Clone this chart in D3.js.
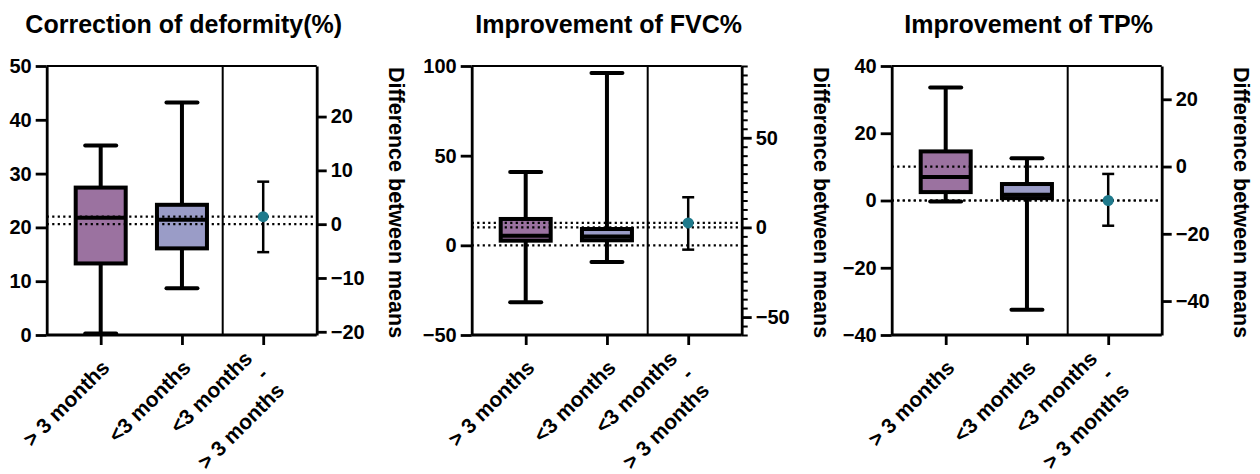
<!DOCTYPE html>
<html>
<head>
<meta charset="utf-8">
<script src="https://cdn.jsdelivr.net/npm/d3@7"></script>
<style>
  body { margin: 0; background: #fff; }
  text { font-family: "Liberation Sans", Arial, sans-serif; font-weight: bold; fill: #000; }
</style>
</head>
<body>
<div id="chart"></div>
<script>
// panel titles and category labels
const panelTitles = ["Correction of deformity(%)", "Improvement of FVC%", "Improvement of TP%"];
const groupNames = ["> 3 months", "<3 months"];
const diffLabel = ["<3 months", "-", "> 3 months"];
const rightTitle = "Difference between means";

// box summaries: [min, q1, median, q3, max]
const deformityOver3 = [0.3, 13.3, 21.8, 27.4, 35.2];
const deformityUnder3 = [8.7, 16.1, 21.4, 24.2, 43.2];
const fvcOver3 = [-31.8, 2.6, 5.4, 14.7, 40.9];
const fvcUnder3 = [-9.3, 2.8, 4.9, 9.1, 96.1];
const tpOver3 = [-0.3, 2.5, 7.0, 14.6, 33.6];
const tpUnder3 = [-32.5, 0.7, 1.7, 4.9, 12.6];

// group means: [> 3 months (reference), <3 months]
const deformityMeans = [20.6, 22.0];
const fvcMeans = [10.0, 12.5];
const tpMeans = [10.1, 0.0];

// difference between means: [estimate, lower CI, upper CI]
const deformityDiff = [1.4, -5.2, 7.9];
const fvcDiff = [2.5, -12.4, 16.8];
const tpDiff = [-10.1, -17.6, -2.2];

// axis domains and ticks
const leftDomains = [[0, 50], [-50, 100], [-40, 40]];
const leftTicks = [[0, 10, 20, 30, 40, 50], [-50, 0, 50, 100], [-40, -20, 0, 20, 40]];
const rightTicks = [[-20, -10, 0, 10, 20], [-50, 0, 50], [-40, -20, 0, 20]];
const rightMinorTicks = [[], [-60, -55, -45, -40, -35, -30, -25, -20, -15, -10, -5, 5, 10, 15, 20, 25, 30, 35, 40, 45, 55, 60, 65, 70, 75, 80, 85, 90], []];

const panels = [
    {boxes: [deformityOver3, deformityUnder3], means: deformityMeans, diff: deformityDiff},
    {boxes: [fvcOver3, fvcUnder3], means: fvcMeans, diff: fvcDiff},
    {boxes: [tpOver3, tpUnder3], means: tpMeans, diff: tpDiff}
];

const boxColors = ["#9b72a0", "#9a9cc7"];
const pointColor = "#1f7a8c";

const svg = d3.select("#chart")
    .append("svg")
    .attr("width", 1260)
    .attr("height", 474);

const panelX = [46.7, 471.7, 891.7];
const plotTop = 66, plotBottom = 335, plotWidth = 270, sepX = 176;

panels.forEach((p, i) => {
    const g = svg.append("g").attr("transform", `translate(${panelX[i]},0)`);

    const x = d3.scalePoint()
        .domain([0, 1, 2])
        .range([54, 216.5]);

    const y = d3.scaleLinear()
        .domain(leftDomains[i])
        .range([plotBottom, plotTop]);

    // right axis is shifted so that its zero sits on the reference mean
    const yR = d3.scaleLinear()
        .domain(leftDomains[i].map(v => v - p.means[0]))
        .range([plotBottom, plotTop]);

    // title
    g.append("text")
        .attr("x", 137)
        .attr("y", 33)
        .attr("text-anchor", "middle")
        .style("font-size", "25px")
        .text(panelTitles[i]);

    // frame top and separator
    g.append("line")
        .attr("x1", 0).attr("x2", plotWidth)
        .attr("y1", plotTop).attr("y2", plotTop)
        .attr("stroke", "#000").attr("stroke-width", 2);
    g.append("line")
        .attr("x1", sepX).attr("x2", sepX)
        .attr("y1", plotTop).attr("y2", plotBottom)
        .attr("stroke", "#000").attr("stroke-width", 2);

    // boxes
    p.boxes.forEach((b, j) => {
        const cx = x(j);
        g.append("line")
            .attr("x1", cx).attr("x2", cx)
            .attr("y1", y(b[0])).attr("y2", y(b[4]))
            .attr("stroke", "#000").attr("stroke-width", 4);
        g.append("rect")
            .attr("x", cx - 25).attr("width", 50)
            .attr("y", y(b[3])).attr("height", y(b[1]) - y(b[3]))
            .attr("fill", boxColors[j])
            .attr("stroke", "#000").attr("stroke-width", 4);
        g.append("line")
            .attr("x1", cx - 25).attr("x2", cx + 25)
            .attr("y1", y(b[2])).attr("y2", y(b[2]))
            .attr("stroke", "#000").attr("stroke-width", 4);
        [b[0], b[4]].forEach(v => {
            g.append("line")
                .attr("x1", cx - 15.5).attr("x2", cx + 15.5)
                .attr("y1", y(v)).attr("y2", y(v))
                .attr("stroke", "#000").attr("stroke-width", 4)
                .attr("stroke-linecap", "round");
        });
    });

    // dotted reference lines: zero, reference mean, other mean
    [y(0), yR(0), yR(p.diff[0])].forEach(ly => {
        if (Math.abs(ly - plotBottom) < 1) return;
        g.append("line")
            .attr("x1", 0).attr("x2", plotWidth)
            .attr("y1", ly).attr("y2", ly)
            .attr("stroke", "#000").attr("stroke-width", 2.2)
            .attr("stroke-dasharray", "2.2,3.3");
    });

    // difference with CI
    const dx = x(2);
    g.append("line")
        .attr("x1", dx).attr("x2", dx)
        .attr("y1", yR(p.diff[1])).attr("y2", yR(p.diff[2]))
        .attr("stroke", "#000").attr("stroke-width", 2.5);
    [p.diff[1], p.diff[2]].forEach(v => {
        g.append("line")
            .attr("x1", dx - 6).attr("x2", dx + 6)
            .attr("y1", yR(v)).attr("y2", yR(v))
            .attr("stroke", "#000").attr("stroke-width", 2.5);
    });
    g.append("circle")
        .attr("cx", dx).attr("cy", yR(p.diff[0]))
        .attr("r", 5.5)
        .attr("fill", pointColor);

    // left axis
    const la = g.append("g")
        .call(d3.axisLeft(y).tickValues(leftTicks[i]).tickSize(11).tickPadding(4).tickSizeOuter(0));
    // right axis
    const ra = g.append("g")
        .attr("transform", `translate(${plotWidth},0)`)
        .call(d3.axisRight(yR).tickValues(rightTicks[i]).tickSize(10).tickPadding(4).tickSizeOuter(0));
    if (rightMinorTicks[i].length) {
        g.append("g")
            .attr("transform", `translate(${plotWidth},0)`)
            .call(d3.axisRight(yR).tickValues(rightMinorTicks[i]).tickSize(6).tickFormat("").tickSizeOuter(0))
            .call(a => a.select(".domain").remove())
            .selectAll("line").attr("stroke", "#000").attr("stroke-width", 2);
    }
    // bottom axis
    const ba = g.append("g")
        .attr("transform", `translate(0,${plotBottom})`)
        .call(d3.axisBottom(x).tickSize(10).tickFormat("").tickSizeOuter(0));
    ba.select(".domain").attr("d", `M0,0H${plotWidth}`);

    [la, ra, ba].forEach(a => {
        a.selectAll("path, line").attr("stroke", "#000").attr("stroke-width", 2.8);
        a.selectAll("text").attr("fill", "#000")
            .style("font-size", "20px")
            .style("font-family", '"Liberation Sans", Arial, sans-serif')
            .style("font-weight", "bold");
    });

    // x labels, rotated
    const labels = [[groupNames[0]], [groupNames[1]], diffLabel];
    labels.forEach((lines, j) => {
        const t = g.append("text")
            .attr("transform", `translate(${x(j) + 10},${plotBottom + 34}) rotate(-45)`)
            .attr("text-anchor", "end")
            .style("font-size", "21px");
        if (lines.length === 1) {
            t.text(lines[0]);
        } else {
            lines.forEach((s, k) => {
                t.append("tspan")
                    .attr("x", -7.4)
                    .attr("y", -20.3 + k * 22.5)
                    .text(s);
            });
        }
    });

    // right axis title
    g.append("text")
        .attr("transform", `translate(${plotWidth + 72},${(plotTop + plotBottom) / 2 + 2}) rotate(90)`)
        .attr("text-anchor", "middle")
        .style("font-size", "21.5px")
        .text(rightTitle);
});
</script>
</body>
</html>
